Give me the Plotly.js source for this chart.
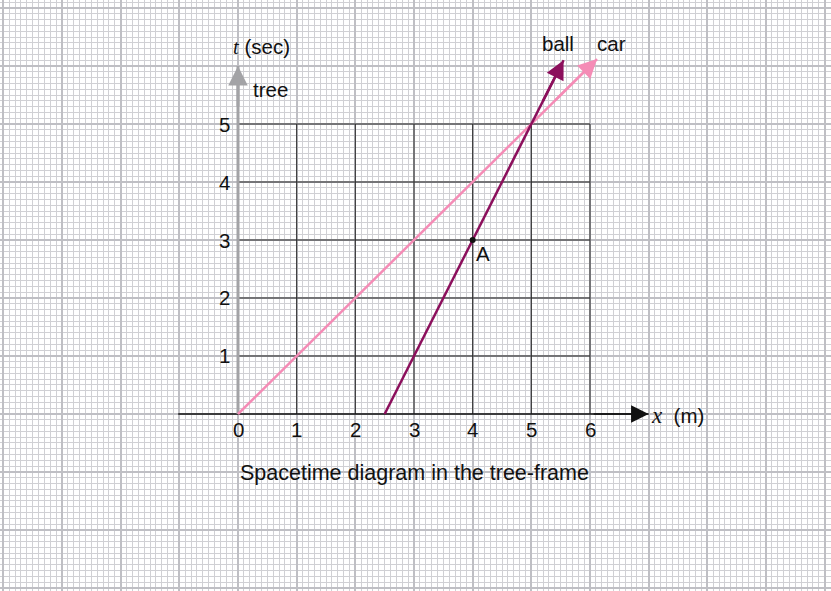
<!DOCTYPE html>
<html>
<head>
<meta charset="utf-8">
<script src="https://cdn.plot.ly/plotly-3.0.1.min.js"></script>
<style>html,body{margin:0;padding:0;background:#fff;}#chart{width:831px;height:591px;}</style>
</head>
<body>
<div id="chart"></div>
<script>
// ---- data ----
var xTickVals = [0, 1, 2, 3, 4, 5, 6];
var tTickVals = [1, 2, 3, 4, 5];
var carX = [0, 6.12];
var carT = [0, 6.12];
var ballX = [2.5, 5.55];
var ballT = [0, 6.1];
var pointA = {x: [4], t: [3], label: 'A'};
var xAxisExtent = [-1.02, 7.0];
var tAxisExtent = [0, 6.0];
var gridXMax = 6, gridTMax = 5;

var FONT = 'Liberation Sans, Arial, Helvetica, sans-serif';
var SERIF = 'Liberation Serif, Times New Roman, serif';
var carColor = '#f58cb6';
var ballColor = '#8c0f5c';
var grayAxis = '#a3a3a6';

var traces = [];
// chart grid lines (black)
tTickVals.forEach(function (t) {
  traces.push({x: [0, gridXMax], y: [t, t], mode: 'lines', line: {color: '#2a2a2a', width: 1}, hoverinfo: 'skip', showlegend: false});
});
xTickVals.filter(function (v) { return v > 0; }).forEach(function (x) {
  traces.push({x: [x, x], y: [0, gridTMax], mode: 'lines', line: {color: '#2a2a2a', width: 1}, hoverinfo: 'skip', showlegend: false});
});
// x axis
traces.push({x: xAxisExtent, y: [0, 0], mode: 'lines', line: {color: '#111', width: 1.6}, hoverinfo: 'skip', showlegend: false});
// t axis
traces.push({x: [0, 0], y: tAxisExtent, mode: 'lines', line: {color: grayAxis, width: 3}, hoverinfo: 'skip', showlegend: false});
// car
traces.push({x: carX, y: carT, mode: 'lines', line: {color: carColor, width: 2.5}, hoverinfo: 'skip', showlegend: false});
// ball
traces.push({x: ballX, y: ballT, mode: 'lines', line: {color: ballColor, width: 2.5}, hoverinfo: 'skip', showlegend: false});
// point A
traces.push({x: pointA.x, y: pointA.t, mode: 'markers', marker: {color: '#111', size: 6}, hoverinfo: 'skip', showlegend: false});

function head(x0, y0, x1, y1, color, w, size) {
  // arrowhead at (x1,y1), tail a short way back along the line
  var f = 0.12;
  return {x: x1, y: y1, ax: x1 - (x1 - x0) * f, ay: y1 - (y1 - y0) * f, axref: 'x', ayref: 'y', xref: 'x', yref: 'y',
    text: '', showarrow: true, arrowhead: 2, arrowsize: size, arrowwidth: w, arrowcolor: color, standoff: 0};
}

var ann = [];
ann.push(head(carX[0], carT[0], carX[1], carT[1], carColor, 2.5, 1.5));
ann.push(head(ballX[0], ballT[0], ballX[1], ballT[1], ballColor, 2.5, 1.5));
ann.push(head(xAxisExtent[0], 0, xAxisExtent[1], 0, '#111', 1.6, 2.2));
ann.push(head(0, tAxisExtent[0], 0, tAxisExtent[1], grayAxis, 3, 1.3));

xTickVals.forEach(function (v) {
  ann.push({x: v, y: -0.27, xref: 'x', yref: 'y', text: String(v), showarrow: false, font: {family: FONT, size: 20.5, color: '#111'}});
});
tTickVals.forEach(function (v) {
  ann.push({x: -0.1, y: v, xref: 'x', yref: 'y', xanchor: 'right', text: String(v), showarrow: false, font: {family: FONT, size: 20.5, color: '#111'}});
});
ann.push({x: -0.12, y: 6.33, xref: 'x', yref: 'y', xanchor: 'left', showarrow: false,
  text: '<span style="font-family:' + SERIF + ';font-style:italic">t</span> (sec)', font: {family: FONT, size: 20.5, color: '#111'}});
ann.push({x: 0.22, y: 5.6, xref: 'x', yref: 'y', xanchor: 'left', showarrow: false, text: 'tree', font: {family: FONT, size: 20.5, color: '#111'}});
ann.push({x: 5.45, y: 6.38, xref: 'x', yref: 'y', showarrow: false, text: 'ball', font: {family: FONT, size: 20.5, color: '#111'}});
ann.push({x: 6.37, y: 6.38, xref: 'x', yref: 'y', showarrow: false, text: 'car', font: {family: FONT, size: 20.5, color: '#111'}});
ann.push({x: 4.17, y: 2.76, xref: 'x', yref: 'y', showarrow: false, text: pointA.label, font: {family: FONT, size: 20.5, color: '#111'}});
ann.push({x: 7.0, y: -0.03, xref: 'x', yref: 'y', xanchor: 'left', showarrow: false,
  text: '<span style="font-family:' + SERIF + ';font-style:italic;font-size:23px">x</span>  (m)', font: {family: FONT, size: 20.5, color: '#111'}});
ann.push({x: 3.0, y: -1.02, xref: 'x', yref: 'y', showarrow: false, text: 'Spacetime diagram in the tree-frame', font: {family: FONT, size: 21.5, color: '#111'}});

var paperMajor = '#bfbfc4', paperMinor = '#d0d0d4';
var layout = {
  width: 831, height: 591,
  margin: {l: 0, r: 0, t: 0, b: 0, pad: 0},
  paper_bgcolor: '#fff', plot_bgcolor: '#fff',
  showlegend: false,
  xaxis: {range: [-4.057, 10.108], dtick: 1, tick0: 0, showgrid: true, gridcolor: paperMajor, gridwidth: 2,
    minor: {dtick: 0.1, tick0: 0, showgrid: true, gridcolor: paperMinor, gridwidth: 1},
    zeroline: false, showline: false, showticklabels: false, ticks: '', fixedrange: true},
  yaxis: {range: [-3.052, 7.138], dtick: 1, tick0: 0, showgrid: true, gridcolor: paperMajor, gridwidth: 2,
    minor: {dtick: 0.1, tick0: 0, showgrid: true, gridcolor: paperMinor, gridwidth: 1},
    zeroline: false, showline: false, showticklabels: false, ticks: '', fixedrange: true},
  annotations: ann
};
Plotly.newPlot('chart', traces, layout, {displayModeBar: false, staticPlot: true});
</script>
</body>
</html>
